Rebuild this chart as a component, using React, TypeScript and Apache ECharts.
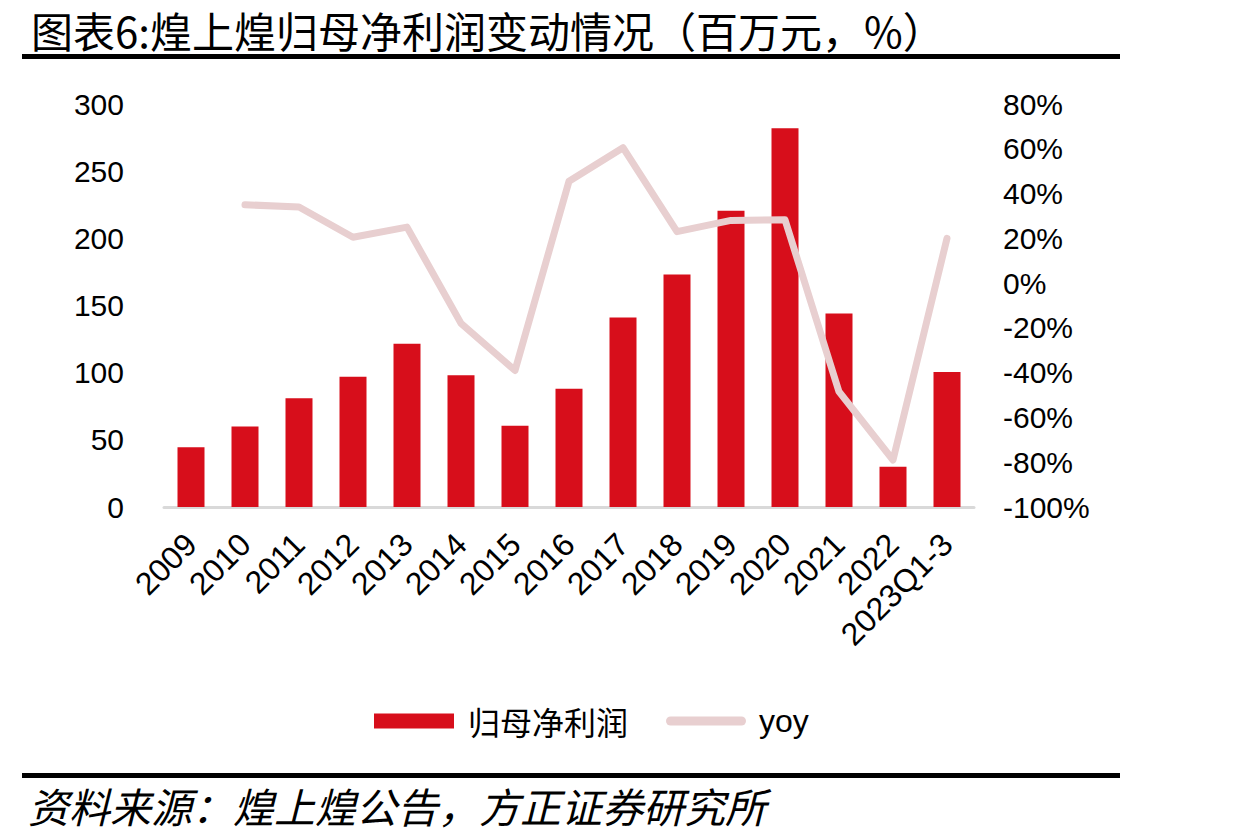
import React, { useEffect, useRef } from "react";
import * as echarts from "echarts";

const categories = ["2009", "2010", "2011", "2012", "2013", "2014", "2015", "2016", "2017", "2018", "2019", "2020", "2021", "2022", "2023Q1-3"];
const netProfit = [44.5, 60, 81, 97, 121.5, 98, 60.5, 88, 141, 173, 220.5, 282, 144, 30, 100.5];
const yoy: (number | null)[] = [null, 35, 34, 20.5, 25, -18, -39, 45.5, 60.5, 23, 28, 28.3, -48.5, -79, 20];
const leftTicks = { min: 0, max: 300, interval: 50 };
const rightTicks = { min: -100, max: 80, interval: 20 };

const titleText = "图表6:煌上煌归母净利润变动情况（百万元，%）";
const sourceText = "资料来源：煌上煌公告，方正证券研究所";
const barName = "归母净利润";
const lineName = "yoy";

const BAR_COLOR = "#D70E1B";
const LINE_COLOR = "#E8CFD0";
const FONT = "'Liberation Sans', Arial, sans-serif";
const CJK = "'Noto Sans CJK SC', sans-serif";

export default function App() {
  const ref = useRef<HTMLDivElement>(null);
  useEffect(() => {
    document.body.style.margin = "0";
    if (!ref.current) return;
    const chart = echarts.init(ref.current, undefined, { renderer: "svg" });
    chart.setOption({
      animation: false,
      backgroundColor: "#ffffff",
      title: {
        text: titleText,
        left: 26,
        top: 3,
        textStyle: { fontFamily: CJK, fontSize: 42, fontWeight: "normal", color: "#000" },
      },
      graphic: [
        { type: "rect", shape: { x: 22, y: 54, width: 1098, height: 5 }, style: { fill: "#000" } },
        { type: "rect", shape: { x: 22, y: 773, width: 1098, height: 5 }, style: { fill: "#000" } },
        {
          type: "text",
          x: 28,
          y: 784,
          style: { text: sourceText, fontFamily: CJK, fontSize: 41, fontStyle: "italic", fill: "#000" },
        },
      ],
      legend: {
        left: 369,
        top: 700,
        itemGap: 38,
        itemWidth: 80,
        itemHeight: 15,
        textStyle: { fontFamily: CJK, fontSize: 32, color: "#000" },
        data: [
          {
            name: barName,
            icon: "rect",
            itemStyle: { color: BAR_COLOR },
            textStyle: { fontFamily: CJK, fontSize: 32, padding: [0, 0, 0, 9] },
          },
          {
            name: lineName,
            icon: "path://M5,0 L83,0 A5,5 0 0 1 83,10 L5,10 A5,5 0 0 1 5,0 Z",
            itemStyle: { color: LINE_COLOR },
            textStyle: { fontFamily: FONT, fontSize: 32, padding: [0, 0, 0, 8] },
          },
        ],
      },
      grid: { left: 164, right: 273, top: 104, bottom: 333 },
      xAxis: {
        type: "category",
        data: categories,
        axisLine: { lineStyle: { color: "#D9D9D9", width: 3 } },
        axisTick: { show: false },
        axisLabel: { rotate: 45, fontFamily: FONT, fontSize: 32, color: "#000", margin: 32, interval: 0 },
      },
      yAxis: [
        {
          type: "value",
          ...leftTicks,
          splitLine: { show: false },
          axisLine: { show: false },
          axisTick: { show: false },
          axisLabel: { fontFamily: FONT, fontSize: 30, color: "#000", margin: 40 },
        },
        {
          type: "value",
          ...rightTicks,
          position: "right",
          splitLine: { show: false },
          axisLine: { show: false },
          axisTick: { show: false },
          axisLabel: { fontFamily: FONT, fontSize: 30, color: "#000", margin: 29, formatter: (v: number) => `${v}%` },
        },
      ],
      series: [
        {
          name: barName,
          type: "bar",
          data: netProfit,
          barWidth: 27,
          itemStyle: { color: BAR_COLOR },
        },
        {
          name: lineName,
          type: "line",
          yAxisIndex: 1,
          data: yoy,
          showSymbol: false,
          symbol: "none",
          lineStyle: { color: LINE_COLOR, width: 7, cap: "round", join: "round" },
          itemStyle: { color: LINE_COLOR },
        },
      ],
    });
    return () => chart.dispose();
  }, []);
  return <div ref={ref} style={{ width: 1247, height: 840 }} />;
}
